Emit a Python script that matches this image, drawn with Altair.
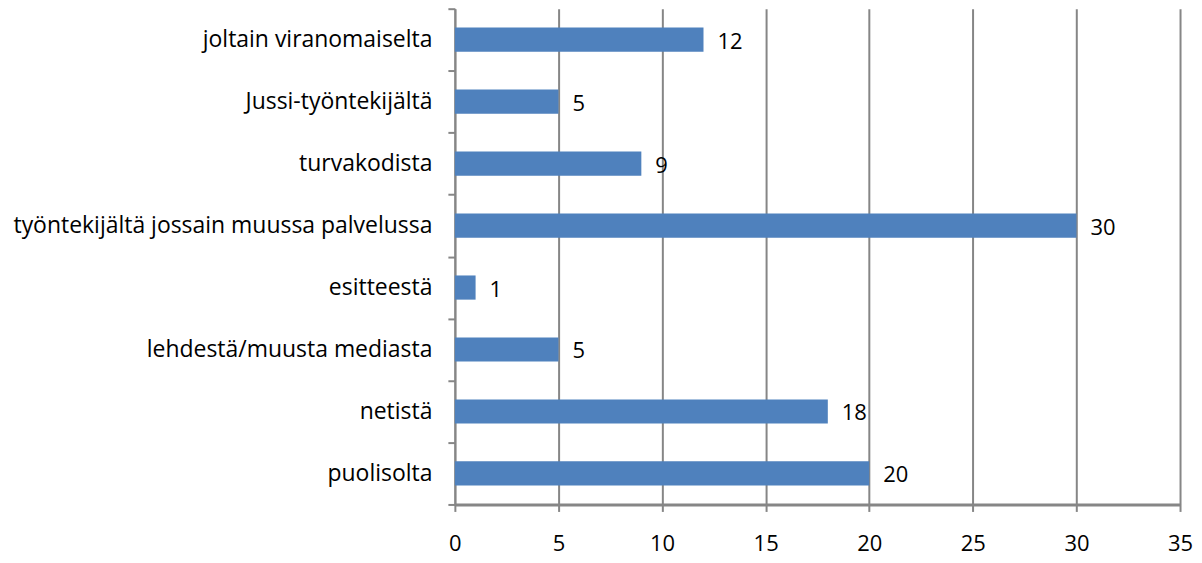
import altair as alt
import pandas as pd

categories = ["joltain viranomaiselta", "Jussi-työntekijältä", "turvakodista",
              "työntekijältä jossain muussa palvelussa", "esitteestä",
              "lehdestä/muusta mediasta", "netistä", "puolisolta"]
values = [12, 5, 9, 30, 1, 5, 18, 20]

df = pd.DataFrame({"cat": categories, "val": values})

FONT = "Open Sans"
GRAY = "#868686"
FS = 22

y = alt.Y("cat:N", sort=categories, title=None,
          scale=alt.Scale(paddingInner=0, paddingOuter=0),
          axis=alt.Axis(tickBand="extent", labelFontSize=23, labelFont=FONT,
                        labelColor="#000000", labelPadding=16, tickSize=7,
                        tickColor=GRAY, domainColor=GRAY, domainWidth=2,
                        tickWidth=2, grid=False, labelLimit=500))
x = alt.X("val:Q", title=None,
          scale=alt.Scale(domain=[0, 35]),
          axis=alt.Axis(values=[0, 5, 10, 15, 20, 25, 30, 35], labelFontSize=FS,
                        labelFont=FONT, labelColor="#000000", labelPadding=22,
                        tickSize=7, tickColor=GRAY, domainColor=GRAY,
                        domainWidth=3, tickWidth=2, grid=True, gridColor=GRAY,
                        gridWidth=2, labelFlush=False))

bars = alt.Chart(df).mark_bar(color="#4F81BD",
                              height=alt.RelativeBandSize(0.39)).encode(x=x, y=y)
labels = alt.Chart(df).mark_text(align="left", baseline="middle", dx=14, dy=2,
                                 fontSize=FS, font=FONT, color="#000000").encode(
    x="val:Q", y=alt.Y("cat:N", sort=categories), text="val:Q")

chart = (bars + labels).properties(
    width=727, height=497,
    autosize=alt.AutoSizeParams(type="none"),
    padding={"left": 448, "top": 0, "right": 14, "bottom": 54},
).configure_view(stroke=None)

chart.save("out.html", embed_options={"renderer": "svg", "actions": False})
